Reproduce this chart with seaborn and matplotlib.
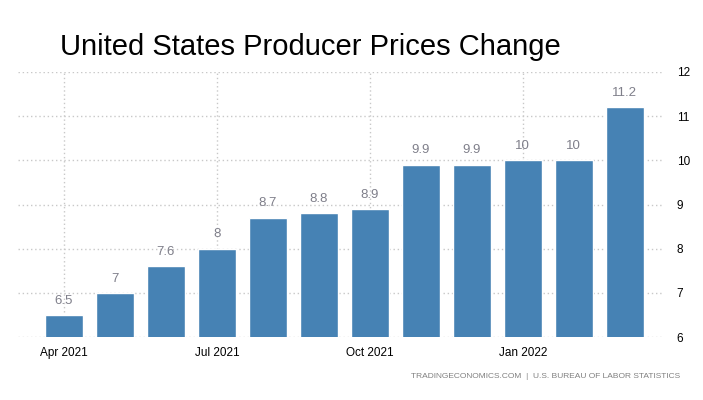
import matplotlib
matplotlib.use("Agg")
import matplotlib.pyplot as plt
import seaborn as sns
import pandas as pd

# data
months = ["Apr 2021", "May 2021", "Jun 2021", "Jul 2021", "Aug 2021", "Sep 2021",
          "Oct 2021", "Nov 2021", "Dec 2021", "Jan 2022", "Feb 2022", "Mar 2022"]
values = [6.5, 7, 7.6, 8, 8.7, 8.8, 8.9, 9.9, 9.9, 10, 10, 11.2]
value_labels = ["6.5", "7", "7.6", "8", "8.7", "8.8", "8.9", "9.9", "9.9", "10", "10", "11.2"]
shown_ticks = ["Apr 2021", "Jul 2021", "Oct 2021", "Jan 2022"]
y_ticks = [6, 7, 8, 9, 10, 11, 12]

df = pd.DataFrame({"month": months, "value": values})

sns.set_style("white")
plt.rcParams["font.family"] = ["Liberation Sans", "DejaVu Sans"]

fig = plt.figure(figsize=(7.03, 4.0), dpi=100)
ax = fig.add_axes([0.0256, 0.1575, 0.9174, 0.6625])

sns.barplot(data=df, x="month", y="value", color="#4682B4", saturation=1,
            width=0.75, ax=ax, zorder=3)

ax.set_ylim(6, 12)
ax.set_xlim(-0.9, 11.75)

# dotted grid
ax.set_yticks(y_ticks)
ax.grid(axis="y", linestyle=(0, (1, 2)), color="#c8c8c8", linewidth=1, zorder=0)
tick_pos = [months.index(m) for m in shown_ticks]
for p in tick_pos:
    ax.axvline(p, linestyle=(0, (1, 2)), color="#c8c8c8", linewidth=1, zorder=0)

ax.set_xticks(tick_pos)
ax.set_xticklabels(shown_ticks, fontsize=8.5, color="black")
ax.tick_params(axis="x", length=3, color="#c8c8c8", pad=4)

ax.yaxis.tick_right()
ax.set_yticklabels([str(t) for t in y_ticks], fontsize=8.5, color="black")
ax.tick_params(axis="y", length=0, pad=10)

for s in ax.spines.values():
    s.set_visible(False)
ax.set_xlabel("")
ax.set_ylabel("")

for i, (v, lab) in enumerate(zip(values, value_labels)):
    ax.annotate(lab, (i, v), xytext=(0, 6), textcoords="offset points",
                ha="center", va="bottom", fontsize=9.5, color="#7f7f8a")

fig.text(0.085, 0.8625, "United States Producer Prices Change", fontsize=21,
         color="black", ha="left", va="baseline")
fig.text(0.968, 0.0575, "TRADINGECONOMICS.COM  |  U.S. BUREAU OF LABOR STATISTICS",
         fontsize=6, color="#808080", ha="right", va="center")

fig.savefig("out.png", dpi=100)
